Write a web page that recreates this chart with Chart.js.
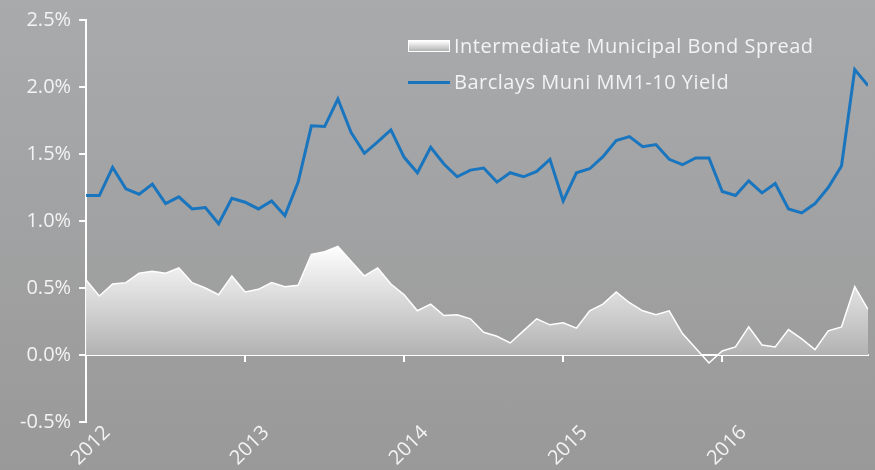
<!DOCTYPE html>
<html>
<head>
<meta charset="utf-8">
<script src="https://cdn.jsdelivr.net/npm/chart.js@4/dist/chart.umd.min.js"></script>
<style>
  html,body{margin:0;padding:0;}
  body{width:875px;height:470px;overflow:hidden;background:linear-gradient(#a9aaac,#999999);font-family:"Open Sans",sans-serif;}
  #wrap{position:relative;width:875px;height:470px;}
  #legend{position:absolute;left:408px;top:28px;color:#f3f3f3;font-size:20px;letter-spacing:0.5px;line-height:36px;}
  #legend .item{display:flex;align-items:center;white-space:nowrap;}
  #legend .sw{width:42px;margin-right:4px;box-sizing:border-box;}
</style>
</head>
<body>
<div id="wrap">
  <canvas id="spreadChart" width="875" height="470"></canvas>
  <div id="legend"></div>
</div>
<script>
/* ---------- data (monthly, Jan 2012 - Dec 2016) ---------- */
const years = ['2012','2013','2014','2015','2016'];
const spreadLabel = 'Intermediate Municipal Bond Spread';
const yieldLabel  = 'Barclays Muni MM1-10 Yield';
const spreadVals = [0.56,0.44,0.53,0.54,0.61,0.625,0.61,0.65,0.54,0.50,
                    0.45,0.59,0.47,0.49,0.54,0.51,0.52,0.75,0.77,0.81,
                    0.70,0.59,0.65,0.53,0.45,0.33,0.38,0.295,0.30,0.27,
                    0.17,0.14,0.09,0.18,0.27,0.225,0.24,0.20,0.33,0.38,
                    0.47,0.39,0.33,0.30,0.33,0.16,0.05,-0.06,0.03,0.06,
                    0.21,0.075,0.06,0.19,0.12,0.04,0.18,0.21,0.51,0.34];
const yieldVals  = [1.19,1.19,1.40,1.24,1.20,1.275,1.13,1.18,1.09,1.10,
                    0.98,1.17,1.14,1.09,1.15,1.04,1.29,1.71,1.705,1.91,
                    1.66,1.505,1.59,1.68,1.475,1.36,1.55,1.425,1.33,1.38,
                    1.395,1.29,1.36,1.33,1.37,1.46,1.15,1.36,1.39,1.48,
                    1.60,1.63,1.555,1.57,1.46,1.42,1.47,1.47,1.22,1.19,
                    1.30,1.21,1.28,1.09,1.06,1.13,1.25,1.41,2.13,2.01];

const BLUE = '#1a75bf';
const TXT = '#f3f3f3';
const FONT = {family:'"Open Sans", sans-serif', size:20};

/* ---------- helpers ---------- */
const toXY = vals => vals.map((v,i) => ({x:i, y:v}));
const yearTicks = s => { s.ticks = s.ticks.filter(t => t.value % 12 === 0); };

function areaGradient(c){
  const {chart} = c;
  const {ctx, chartArea, scales} = chart;
  if(!chartArea) return 'rgba(255,255,255,0.8)';
  const top = scales.y.getPixelForValue(0.82), bot = scales.y.getPixelForValue(0);
  const g = ctx.createLinearGradient(0, top, 0, bot);
  g.addColorStop(0, '#ffffff');
  g.addColorStop(1, '#b2b2b2');
  return g;
}

/* ---------- chart ---------- */
const ctx = document.getElementById('spreadChart').getContext('2d');
const chart = new Chart(ctx, {
  type:'line',
  data:{datasets:[
    {label:spreadLabel, data:toXY(spreadVals), borderColor:'#ffffff', borderWidth:1.5,
     backgroundColor:areaGradient, fill:{target:'origin', below:'rgba(0,0,0,0)'}, pointRadius:0, tension:0},
    {label:yieldLabel, data:toXY(yieldVals), borderColor:BLUE, borderWidth:3,
     fill:false, pointRadius:0, tension:0}
  ]},
  options:{
    responsive:false,
    animation:false,
    layout:{padding:{top:17, right:7, left:12, bottom:0}},
    plugins:{legend:{display:false}, tooltip:{enabled:false}},
    scales:{
      y:{
        min:-0.5, max:2.5,
        ticks:{stepSize:0.5, color:TXT, font:FONT, padding:8, callback:v => v.toFixed(1)+'%'},
        grid:{drawOnChartArea:false, color:'#ffffff', tickLength:7, lineWidth:2},
        border:{color:'#ffffff', width:2}
      },
      x:{
        type:'linear', position:{y:0}, min:0, max:59, z:1,
        afterBuildTicks:yearTicks,
        afterFit:s => { s.height = 0; },
        ticks:{display:false, stepSize:12},
        grid:{drawOnChartArea:false, color:'#ffffff', tickLength:6, lineWidth:2},
        border:{color:'#ffffff', width:2}
      },
      x2:{
        type:'linear', position:'bottom', min:0, max:59,
        afterBuildTicks:yearTicks,
        afterFit:s => { s.height = 48; },
        ticks:{stepSize:12, color:TXT, font:FONT, minRotation:45, maxRotation:45, labelOffset:21, padding:-9,
               callback:v => years[v/12]},
        grid:{display:false},
        border:{display:false}
      }
    }
  }
});

/* ---------- legend (html) ---------- */
const legend = document.getElementById('legend');
legend.innerHTML =
  `<div class="item"><span class="sw" style="height:12px;border:1px solid #fff;background:linear-gradient(#ffffff,#b2b2b2)"></span>${spreadLabel}</div>` +
  `<div class="item"><span class="sw" style="height:3px;background:${BLUE}"></span>${yieldLabel}</div>`;
</script>
</body>
</html>
